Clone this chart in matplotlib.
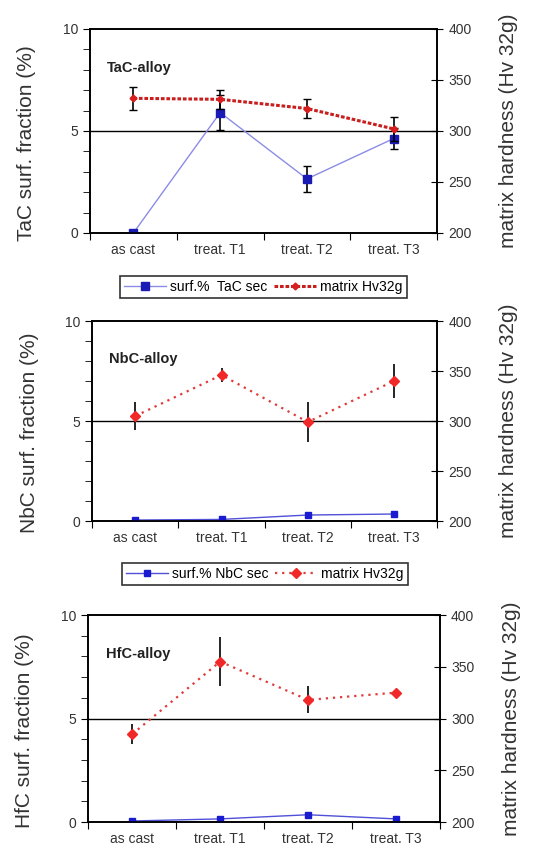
import matplotlib
matplotlib.use("Agg")
import matplotlib.pyplot as plt
from matplotlib.lines import Line2D
from matplotlib.ticker import MultipleLocator

plt.rcParams.update({"font.family": ["Liberation Sans", "DejaVu Sans"], "font.size": 10})

CATS = ["as cast", "treat. T1", "treat. T2", "treat. T3"]
ALLOYS = ["TaC", "NbC", "HfC"]

# surface fraction of secondary carbides (%), left axis
TAC_SURF = [0.0, 5.9, 2.65, 4.63]
TAC_SURF_ERR = [0.0, 0.85, 0.63, 0.5]
NBC_SURF = [0.05, 0.08, 0.3, 0.35]
NBC_SURF_ERR = [0.0, 0.0, 0.15, 0.1]
HFC_SURF = [0.05, 0.15, 0.35, 0.15]
HFC_SURF_ERR = [0.0, 0.0, 0.1, 0.0]

# matrix hardness (Hv 32g), right axis
TAC_HV = [332, 331, 322, 302]
TAC_HV_ERR = [11, 9, 9, 12]
NBC_HV = [305, 346, 299, 340]
NBC_HV_ERR = [14, 7, 20, 17]
HFC_HV = [285, 355, 318, 325]
HFC_HV_ERR = [10, 24, 13, 2]

SURF = [TAC_SURF, NBC_SURF, HFC_SURF]
SURF_ERR = [TAC_SURF_ERR, NBC_SURF_ERR, HFC_SURF_ERR]
HV = [TAC_HV, NBC_HV, HFC_HV]
HV_ERR = [TAC_HV_ERR, NBC_HV_ERR, HFC_HV_ERR]

TXT = "#333333"
# axes boxes in figure fractions [left, bottom, width, height]
BOXES = [[0.167, 0.7256, 0.644, 0.2403],
         [0.171, 0.3863, 0.640, 0.2356],
         [0.164, 0.0318, 0.652, 0.2438]]

fig = plt.figure(figsize=(5.39, 8.49), dpi=100)

for i, alloy in enumerate(ALLOYS):
    ax = fig.add_axes(BOXES[i])
    ax2 = ax.twinx()
    x = range(len(CATS))
    first = i == 0

    if first:
        blue_line = dict(color="#8c8ce6", lw=1.0, marker="s", ms=6,
                         mfc="#1a1ab4", mec="#1a1ab4")
        red_line = dict(color="#c81e1e", lw=2.2, ls=(0, (1.2, 0.6)), marker="D", ms=3.5,
                        mfc="#d81e1e", mec="#d81e1e")
        cap = 3
    else:
        blue_line = dict(color="#5050d8", lw=1.0, marker="s", ms=5,
                         mfc="#1a1ad0", mec="#1a1ad0")
        red_line = dict(color="#e03a3a", lw=1.6, ls=(0, (1, 2.2)), marker="D", ms=5.5,
                        mfc="#f02828", mec="#f02828")
        cap = 0

    ax.errorbar(x, SURF[i], yerr=SURF_ERR[i], ecolor="black", elinewidth=1.2,
                capsize=cap, zorder=3, **blue_line)
    ax2.errorbar(x, HV[i], yerr=HV_ERR[i], ecolor="black", elinewidth=1.2,
                 capsize=cap, zorder=3, **red_line)

    ax.set_xlim(-0.5, 3.5)
    ax.set_ylim(0, 10)
    ax2.set_ylim(200, 400)
    ax.axhline(5, color="black", lw=1.0, zorder=1)

    ax.set_xticks([-0.5, 0.5, 1.5, 2.5, 3.5])
    ax.set_xticklabels([])
    ax.set_xticks(list(x), minor=True)
    ax.set_xticklabels(CATS, minor=True, color=TXT)
    ax.tick_params(axis="x", which="major", direction="out", length=5)
    ax.tick_params(axis="x", which="minor", length=0, pad=7)

    ax.yaxis.set_major_locator(MultipleLocator(5))
    ax.yaxis.set_minor_locator(MultipleLocator(1))
    ax.tick_params(axis="y", which="both", direction="out", length=5, colors="black",
                   labelcolor=TXT)
    ax2.yaxis.set_major_locator(MultipleLocator(50))
    ax2.tick_params(axis="y", direction="inout", length=9, labelcolor=TXT)

    for a in (ax, ax2):
        for s in a.spines.values():
            s.set_linewidth(1.2)

    ax.set_ylabel(f"{alloy} surf. fraction (%)", fontsize=15, color=TXT)
    ax.yaxis.set_label_coords(-0.155, 0.44)
    ax2.set_ylabel("matrix hardness (Hv 32g)", fontsize=15, color=TXT, labelpad=20)
    ax.text(0.05, 0.79, f"{alloy}-alloy", transform=ax.transAxes, fontsize=10.5,
            fontweight="bold", color="#222222")

    if i < 2:
        sep = "  " if first else " "
        handles = [Line2D([], [], **blue_line), Line2D([], [], **red_line)]
        leg = ax.legend(handles, [f"surf.%{sep}{alloy} sec", "matrix Hv32g"], ncol=2,
                        loc="upper center", bbox_to_anchor=(0.5, -0.175), frameon=True,
                        fancybox=False, edgecolor="black", handlelength=3.0,
                        columnspacing=0.5, handletextpad=0.3, borderpad=0.3,
                        fontsize=10)
        leg.get_frame().set_linewidth(1.2)

fig.savefig("out.png", dpi=100)
